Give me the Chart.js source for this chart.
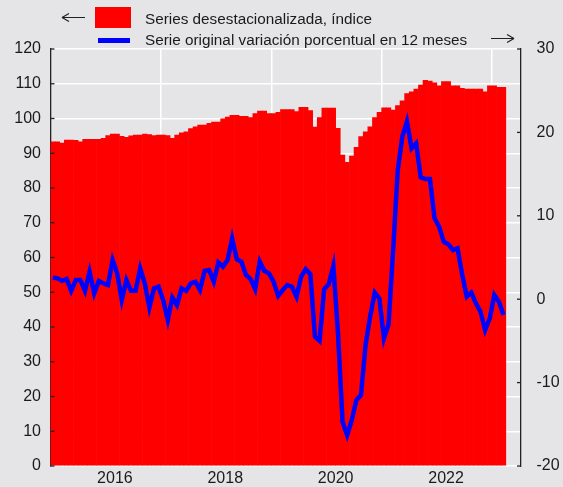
<!DOCTYPE html>
<html>
<head>
<meta charset="utf-8">
<script src="https://cdn.jsdelivr.net/npm/chart.js@4.4.1/dist/chart.umd.min.js"></script>
<style>
html, body { margin:0; padding:0; background:#e5e5e7; }
#wrap { position:relative; width:563px; height:487px; overflow:hidden; }
canvas { position:absolute; left:0; top:0; }
.lg { position:absolute; font-family:"Liberation Sans", Arial, sans-serif; font-size:15.3px; line-height:18px; color:#1a1a1a; white-space:nowrap; }
.mark { position:absolute; }
</style>
</head>
<body>
<div id="wrap">
  <canvas id="chart" width="563" height="487"></canvas>
  <svg class="mark" style="left:59px;top:10px" width="28" height="15"><path d="M3 7.5 H26 M3 7.5 L10 3.5 M3 7.5 L10 11.5" stroke="#222" fill="none" stroke-width="1.2"/></svg>
  <div class="mark" style="left:95px;top:7px;width:36px;height:21px;background:#ff0000"></div>
  <div class="lg" style="left:145px;top:10px">Series desestacionalizada, índice</div>
  <div class="mark" style="left:98px;top:38px;width:32px;height:4.5px;background:#0000ff"></div>
  <div class="lg" style="left:145px;top:31px">Serie original variación porcentual en 12 meses</div>
  <svg class="mark" style="left:489px;top:31px" width="28" height="15"><path d="M2 7.5 H25 M25 7.5 L18 3.5 M25 7.5 L18 11.5" stroke="#222" fill="none" stroke-width="1.2"/></svg>
</div>
<script>
// serie desestacionalizada (indice), mensual desde ene-2015
var indice = [
  93.3, 93.3, 92.9, 93.8, 93.8, 93.7, 93.3, 94.0, 94.0, 94.0, 94.0, 94.3,
  95.1, 95.5, 95.5, 94.9, 94.6, 95.0, 95.2, 95.2, 95.5, 95.4, 95.1, 95.2,
  95.2, 95.1, 94.3, 95.2, 95.9, 96.2, 97.1, 97.6, 98.1, 98.1, 98.6, 99.0,
  99.0, 99.9, 100.4, 100.9, 100.9, 100.6, 100.6, 100.3, 101.4, 102.1, 102.1, 101.4,
  101.4, 101.8, 102.6, 102.6, 102.6, 102.0, 103.2, 103.2, 102.3, 97.5, 100.3, 103.0,
  103.0, 103.0, 97.2, 89.5, 87.4, 89.2, 91.7, 94.8, 96.2, 97.6, 100.3, 101.8,
  103.1, 103.1, 102.4, 103.7, 105.1, 107.2, 107.7, 108.5, 109.6, 111.0, 110.8, 110.3,
  109.4, 110.6, 110.6, 109.4, 109.4, 108.7, 108.5, 108.5, 108.5, 108.5, 107.7, 109.4,
  109.4, 109.0, 109.0
];

// variacion en 12 meses (%)
var variacion = [
  2.6, 2.5, 2.2, 2.4, 1.0, 2.3, 2.3, 1.0, 3.3, 0.7, 2.2, 1.9,
  1.7, 4.7, 3.1, -0.1, 2.3, 1.0, 1.0, 3.7, 1.9, -1.0, 1.3, 1.5,
  -0.1, -2.5, 0.2, -0.7, 1.3, 1.0, 1.9, 2.1, 1.1, 3.4, 3.5, 2.1,
  4.4, 3.9, 4.7, 7.3, 4.8, 4.5, 2.9, 2.4, 1.2, 4.5, 3.4, 3.1,
  2.1, 0.4, 1.1, 1.7, 1.5, 0.3, 2.7, 3.6, 3.0, -4.5, -5.0, 1.2,
  1.8, 4.0, -4.0, -14.7, -16.3, -14.5, -12.1, -11.5, -5.5, -2.1, 0.8, 0.1,
  -4.7, -3.0, 5.9, 15.5, 19.5, 21.3, 18.1, 18.7, 14.6, 14.4, 14.4, 9.7,
  8.7, 6.9, 6.6, 5.9, 6.1, 3.0, 0.3, 0.8, -0.5, -1.5, -3.7, -2.3,
  0.5, -0.3, -1.9
];

var yearLabels = ['2016', '2018', '2020', '2022'];
var yearLabelMonth = [14, 38, 62, 86];   // meses desde ene-2015
var gridMonth = [24, 48, 72, 96];
var leftTicks = [0, 10, 20, 30, 40, 50, 60, 70, 80, 90, 100, 110, 120];
var rightTicks = [-20, -10, 0, 10, 20, 30];

var barPts = indice.map(function(v, i){ return {x: i + 0.5, y: v}; });
var linePts = variacion.map(function(v, i){ return {x: i + 0.5, y: v}; });

var tickFont = {family: "'Liberation Sans', Arial, sans-serif", size: 16};

// marcas de eje hacia adentro
var innerTicks = {
  id: 'innerTicks',
  afterDraw: function(chart) {
    var ctx = chart.ctx, a = chart.chartArea;
    ctx.save();
    ctx.strokeStyle = '#222';
    ctx.lineWidth = 1.3;
    leftTicks.forEach(function(t){
      var y = chart.scales.y.getPixelForValue(t);
      ctx.beginPath(); ctx.moveTo(a.left, y); ctx.lineTo(a.left + 4, y); ctx.stroke();
    });
    rightTicks.forEach(function(t){
      var y = chart.scales.y2.getPixelForValue(t);
      ctx.beginPath(); ctx.moveTo(a.right - 4, y); ctx.lineTo(a.right, y); ctx.stroke();
    });
    ctx.restore();
  }
};

function fixWidth(w) {
  return function(s){ s.width = w; s.paddingTop = 0; s.paddingBottom = 0; };
}

var config = {
  data: {
    datasets: [
      {
        type: 'line',
        label: 'Serie original variación porcentual en 12 meses',
        data: linePts,
        yAxisID: 'y2',
        xAxisID: 'x',
        borderColor: '#0000ff',
        borderWidth: 4.5,
        pointRadius: 0,
        tension: 0,
        order: 0
      },
      {
        type: 'bar',
        label: 'Series desestacionalizada, índice',
        data: barPts,
        yAxisID: 'y',
        xAxisID: 'x',
        backgroundColor: '#ff0000',
        borderWidth: 0,
        barPercentage: 1,
        categoryPercentage: 1,
        order: 1
      }
    ]
  },
  options: {
    responsive: false,
    animation: false,
    devicePixelRatio: 1,
    layout: { padding: {top: 49, left: 0, right: 0, bottom: 0} },
    plugins: { legend: {display: false}, tooltip: {enabled: false} },
    scales: {
      x: {
        type: 'linear', position: 'bottom', min: 0, max: 102.3, offset: false,
        grid: { color: '#ffffff', lineWidth: 1.5, drawTicks: false, offset: false },
        border: { display: false },
        ticks: { display: false },
        afterBuildTicks: function(s){ s.ticks = gridMonth.map(function(v){ return {value: v}; }); },
        afterFit: function(s){ s.height = 0; }
      },
      x2: {
        type: 'linear', position: 'bottom', min: 0, max: 102.3, offset: false,
        grid: { display: false, drawTicks: false, offset: false },
        border: { display: false },
        ticks: {
          font: tickFont, color: '#1a1a1a', padding: 2.5, maxRotation: 0, autoSkip: false,
          callback: function(v){ var k = yearLabelMonth.indexOf(v); return k >= 0 ? yearLabels[k] : ''; }
        },
        afterBuildTicks: function(s){ s.ticks = yearLabelMonth.map(function(v){ return {value: v}; }); },
        afterFit: function(s){ s.height = 21; }
      },
      y: {
        position: 'left', min: 0, max: 120,
        grid: { color: '#ffffff', lineWidth: 1.5, drawTicks: false },
        border: { display: true, color: '#222', width: 1.3 },
        ticks: { stepSize: 10, font: tickFont, color: '#1a1a1a', padding: 9.5 },
        afterBuildTicks: function(s){ s.ticks = leftTicks.map(function(v){ return {value: v}; }); },
        afterFit: fixWidth(50.5)
      },
      y2: {
        position: 'right', min: -20, max: 30,
        grid: { display: false, drawTicks: false },
        border: { display: true, color: '#222', width: 1.3 },
        ticks: { stepSize: 10, font: tickFont, color: '#1a1a1a', padding: 15.5 },
        afterBuildTicks: function(s){ s.ticks = rightTicks.map(function(v){ return {value: v}; }); },
        afterFit: fixWidth(42)
      }
    }
  },
  plugins: [innerTicks]
};

var chart = new Chart(document.getElementById('chart'), config);
</script>
</body>
</html>
